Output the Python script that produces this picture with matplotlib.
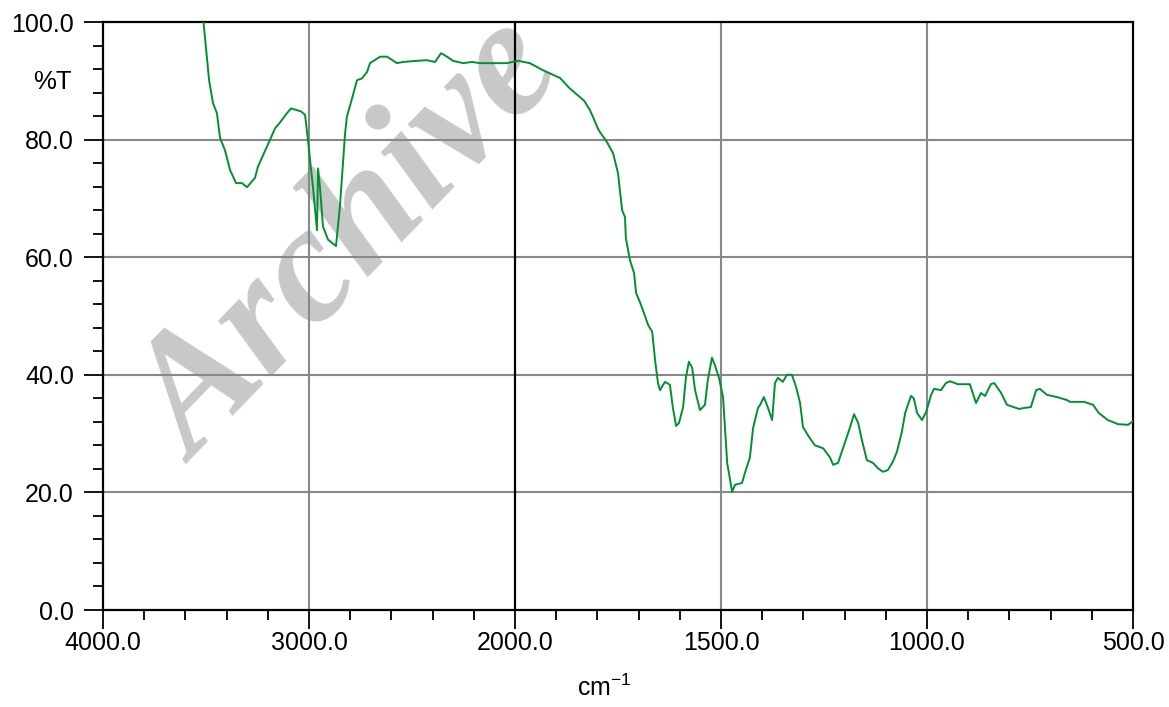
import numpy as np
import matplotlib
matplotlib.use("Agg")
import matplotlib.pyplot as plt

wavenumber = [3515, 3485, 3466, 3447, 3432, 3408, 3383, 3354, 3325, 3301, 3262, 3248, 3204, 3165,
              3141, 3107, 3087, 3058, 3039, 3019, 3005, 2981, 2961, 2956, 2947, 2932, 2908, 2869,
              2850, 2825, 2816, 2791, 2767, 2743, 2718, 2704, 2655, 2621, 2573, 2544, 2476, 2427,
              2388, 2359, 2330, 2301, 2252, 2209, 2170, 2039, 2000, 1993, 1964, 1932, 1898, 1891,
              1867, 1832, 1818, 1811, 1799, 1794, 1777, 1762, 1750, 1740, 1733, 1731, 1721, 1711,
              1706, 1697, 1687, 1677, 1667, 1660, 1653, 1648, 1636, 1624, 1617, 1609, 1602, 1592,
              1585, 1578, 1570, 1563, 1551, 1539, 1532, 1522, 1515, 1505, 1495, 1490, 1485, 1473,
              1466, 1449, 1442, 1430, 1422, 1410, 1405, 1396, 1386, 1376, 1374, 1369, 1362, 1350,
              1340, 1328, 1318, 1308, 1301, 1286, 1272, 1252, 1235, 1228, 1216, 1204, 1189, 1177,
              1167, 1158, 1146, 1131, 1119, 1107, 1095, 1083, 1073, 1061, 1053, 1039, 1032, 1024,
              1012, 1002, 990, 983, 966, 954, 944, 925, 908, 896, 881, 869, 859, 845, 837, 820,
              806, 777, 760, 748, 735, 726, 709, 684, 660, 653, 619, 597, 583, 561, 536, 512, 500]
transmittance = [101, 90.1, 86.2, 84.5, 80.3, 78.2, 74.8, 72.6, 72.6, 71.9, 73.5, 75.4, 78.8, 81.9,
                 82.9, 84.5, 85.3, 85.0, 84.8, 84.2, 79.9, 72.0, 64.6, 75.1, 72.0, 65.2, 63.0, 61.9,
                 68.6, 81.0, 83.9, 87.0, 90.1, 90.4, 91.5, 93.0, 94.1, 94.1, 93.0, 93.2, 93.4, 93.5,
                 93.2, 94.7, 94.1, 93.4, 93.0, 93.2, 93.0, 93.0, 93.3, 93.4, 93.0, 91.8, 90.7, 90.5,
                 88.7, 86.6, 85.0, 83.9, 81.9, 81.3, 79.6, 77.7, 74.3, 68.0, 66.8, 63.3, 59.5, 57.3,
                 53.9, 52.4, 50.5, 48.5, 47.3, 42.5, 38.6, 37.4, 38.8, 38.3, 34.5, 31.3, 31.8, 34.5,
                 39.6, 42.2, 41.2, 37.4, 34.0, 34.9, 39.1, 42.9, 41.7, 39.5, 36.2, 30.6, 25.0, 20.1,
                 21.3, 21.6, 23.3, 25.9, 31.0, 34.4, 34.9, 36.2, 34.4, 32.3, 34.0, 38.6, 39.5, 38.8,
                 40.0, 40.0, 38.0, 35.2, 31.1, 29.4, 28.0, 27.5, 25.9, 24.7, 25.0, 27.5, 30.6, 33.3,
                 31.8, 28.9, 25.5, 25.0, 24.1, 23.5, 23.8, 25.2, 26.9, 30.3, 33.5, 36.4, 36.0, 33.5,
                 32.3, 33.7, 36.6, 37.6, 37.4, 38.6, 38.9, 38.4, 38.4, 38.4, 35.2, 36.9, 36.4, 38.4, 38.6, 36.9,
                 34.9, 34.2, 34.4, 34.5, 37.4, 37.6, 36.6, 36.2, 35.7, 35.4, 35.4, 34.9, 33.5, 32.3, 31.6, 31.5, 32.1]

x_major = [4000, 3000, 2000, 1500, 1000, 500]
x_minor = [3800, 3600, 3400, 3200, 2800, 2600, 2400, 2200,
           1900, 1800, 1700, 1600, 1400, 1300, 1200, 1100, 900, 800, 700, 600]
y_major = [0, 20, 40, 60, 80, 100]
y_minor = [v for v in range(0, 101, 4) if v % 20 != 0]

plt.rcParams['font.family'] = ['Liberation Sans', 'DejaVu Sans']


def fwd(x):
    x = np.asarray(x, dtype=float)
    return np.where(x >= 2000, x, 2 * x - 2000)


def inv(u):
    u = np.asarray(u, dtype=float)
    return np.where(u >= 2000, u, (u + 2000) / 2)


fig = plt.figure(figsize=(11.69, 7.07), dpi=100)
ax = fig.add_axes([103 / 1169, 1 - 610 / 707, (1133 - 103) / 1169, (610 - 22) / 707])
ax.set_xscale('function', functions=(fwd, inv))
ax.set_xlim(4000, 500)
ax.set_ylim(0, 100)

ax.set_xticks(x_major)
ax.set_xticks(x_minor, minor=True)
ax.set_xticklabels([f"{v:.1f}" for v in x_major])
ax.set_yticks(y_major)
ax.set_yticks(y_minor, minor=True)
ax.set_yticklabels([f"{v:.1f}" for v in y_major])

ax.tick_params(axis='both', which='major', direction='out', length=14, width=1.3,
               labelsize=18, colors='black')
ax.tick_params(axis='both', which='minor', direction='out', length=7.5, width=1.3)
ax.tick_params(axis='x', which='major', pad=1)
ax.tick_params(axis='y', which='major', pad=7)

for v in [3000, 1500, 1000]:
    ax.axvline(v, color='#888888', lw=1.5, zorder=1)
for v in [20, 40, 60, 80]:
    ax.axhline(v, color='#888888', lw=1.5, zorder=1)
ax.axvline(2000, color='black', lw=1.6, zorder=1.5)

for s in ax.spines.values():
    s.set_linewidth(1.6)
    s.set_color('black')

ax.text(195 / 1169, 1 - 465 / 707, "Archive", transform=fig.transFigure, clip_on=False,
        fontsize=120, family='Liberation Serif', fontweight='bold', fontstyle='italic',
        color='#c8c8c8', rotation=46, ha='left', va='baseline', rotation_mode='anchor',
        zorder=0.5)

ax.plot(wavenumber, transmittance, color='#009030', lw=1.4, zorder=3)

fig.text(52 / 1169, 1 - 82 / 707, "%T", fontsize=18.5, ha='center', va='center')
fig.text(604 / 1169, 1 - 688 / 707, r"cm$^{\mathregular{-1}}$", fontsize=18, ha='center', va='center')

fig.savefig("out.png", dpi=100)
